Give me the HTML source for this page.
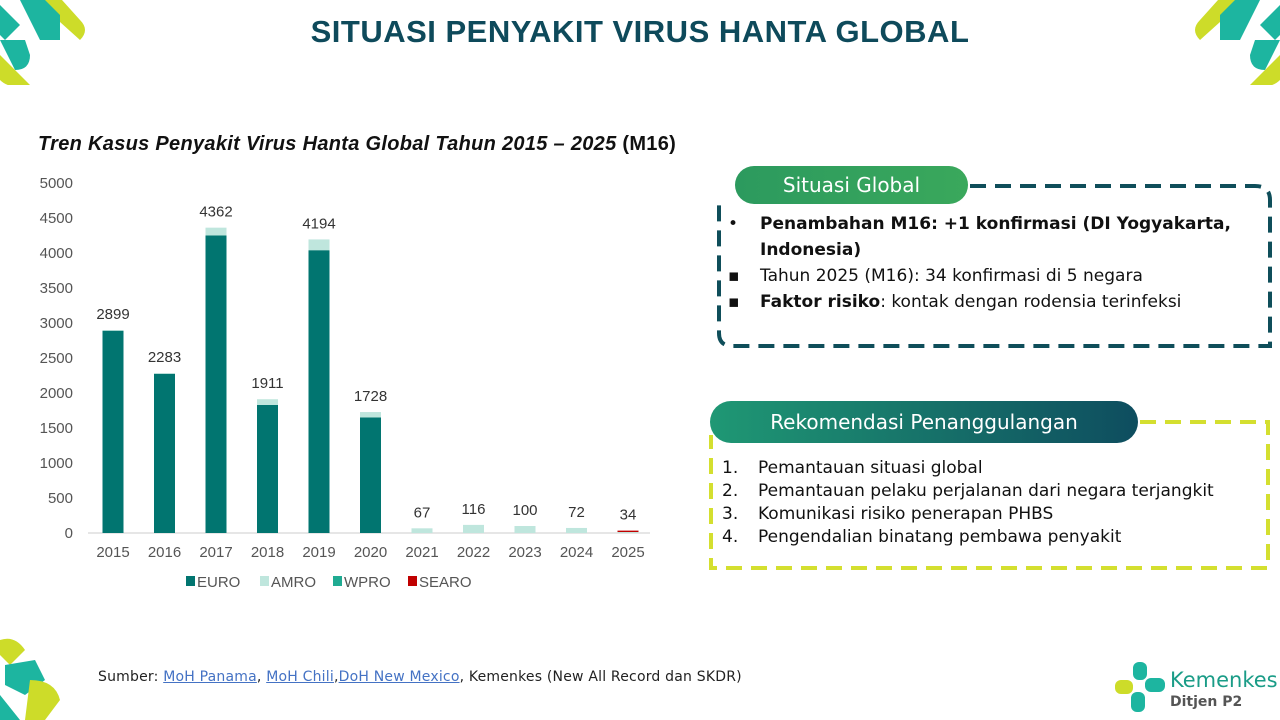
<!DOCTYPE html>
<html><head><meta charset="utf-8"><style>
body{margin:0;width:1280px;height:720px;background:#fff;position:relative;overflow:hidden;font-family:"Liberation Sans",sans-serif}
.abs{position:absolute}
h1{position:absolute;left:0;width:1280px;top:14px;margin:0;text-align:center;font-size:31px;font-weight:bold;color:#0e4a5b;letter-spacing:0.5px}
.ct{left:38px;top:133px;font-size:20px;font-weight:bold;font-style:italic;color:#111;letter-spacing:0.3px}
.pill{color:#fff;font-size:20px;text-align:center;border-radius:22px;font-family:"DejaVu Sans",sans-serif}
.txt{font-family:"DejaVu Sans",sans-serif;font-size:17px;color:#111;line-height:26px}
</style></head><body>
<h1>SITUASI PENYAKIT VIRUS HANTA GLOBAL</h1>
<svg class="abs" style="left:0;top:0" width="90" height="85">
<path d="M38 0 H62 L80 20 Q90 30 80 40 L60 22 Z" fill="#cddc29"/>
<path d="M0 5 L20 25 L5 40 L0 35Z" fill="#1db5a0"/>
<path d="M20 0 L45 0 L60 15 L60 40 L40 40Z" fill="#1db5a0"/>
<path d="M0 40 L25 40 L30 55 Q30 70 15 70Z" fill="#1db5a0"/>
<path d="M0 55 L30 85 Q10 90 0 80Z" fill="#cddc29"/>
</svg>
<svg class="abs" style="left:1190px;top:0" width="90" height="85">
<g transform="translate(90,0) scale(-1,1)">
<path d="M38 0 H62 L80 20 Q90 30 80 40 L60 22 Z" fill="#cddc29"/>
<path d="M0 5 L20 25 L5 40 L0 35Z" fill="#1db5a0"/>
<path d="M20 0 L45 0 L60 15 L60 40 L40 40Z" fill="#1db5a0"/>
<path d="M0 40 L25 40 L30 55 Q30 70 15 70Z" fill="#1db5a0"/>
<path d="M0 55 L30 85 Q10 90 0 80Z" fill="#cddc29"/></g>
</svg>
<svg class="abs" style="left:0;top:635px" width="75" height="85">
<path d="M0 5 Q15 0 25 15 L10 30 L0 20Z" fill="#cddc29"/>
<path d="M5 30 L35 25 L45 45 L25 60 L5 50Z" fill="#1db5a0"/>
<path d="M30 45 Q55 45 60 65 L45 85 L25 85Z" fill="#cddc29"/>
<path d="M0 60 L20 85 L0 85Z" fill="#1db5a0"/>
</svg>
<div class="abs ct">Tren Kasus Penyakit Virus Hanta Global Tahun 2015 – 2025 <span style="font-style:normal">(M16)</span></div>
<svg id="chart" class="abs" style="left:0;top:0" width="700" height="600"></svg>
<script>
const years=["2015","2016","2017","2018","2019","2020","2021","2022","2023","2024","2025"];
const euro=[2890,2275,4250,1830,4040,1650,0,0,0,0,0];
const amro=[9,8,112,81,154,78,67,116,100,72,14];
const wpro=[0,0,0,0,0,0,0,0,0,0,0];
const searo=[0,0,0,0,0,0,0,0,0,0,20];
const totals=[2899,2283,4362,1911,4194,1728,67,116,100,72,34];
const yTicks=[0,500,1000,1500,2000,2500,3000,3500,4000,4500,5000];
const NS="http://www.w3.org/2000/svg";
const svg=document.getElementById('chart');
const y=v=>533-v*0.07;
const x=i=>113+i*51.5;
function mk(t,a){const e=document.createElementNS(NS,t);for(const k in a)e.setAttribute(k,a[k]);svg.appendChild(e);return e;}
yTicks.forEach(t=>{const e=mk('text',{x:73,y:y(t)+5,'text-anchor':'end','font-size':15,fill:'#555','font-family':'Liberation Sans'});e.textContent=t;

});
const ax=mk('line',{x1:88,x2:650,y1:533,y2:533,stroke:'#ccc'});


const series=[[euro,'#017570','euro'],[amro,'#bfe6dd','amro'],[wpro,'#20ab92','wpro'],[searo,'#c00000','searo']];
years.forEach((yr,i)=>{let base=0;
series.forEach(([arr,c,n])=>{const v=arr[i];if(v>0){const r=mk('rect',{x:x(i)-10.5,y:y(base+v),width:21,height:y(base)-y(base+v),fill:c});

}base+=v;});
const l=mk('text',{x:x(i),y:y(totals[i])-11,'text-anchor':'middle','font-size':15,fill:'#333','font-family':'Liberation Sans'});l.textContent=totals[i];


const t=mk('text',{x:x(i),y:557,'text-anchor':'middle','font-size':15,fill:'#555','font-family':'Liberation Sans'});t.textContent=yr;

});
const leg=[['EURO','#017570',186],['AMRO','#bfe6dd',260],['WPRO','#20ab92',333],['SEARO','#c00000',408]];
leg.forEach(([n,c,lx])=>{const r=mk('rect',{x:lx,y:576,width:9,height:10,fill:c});


const t=mk('text',{x:lx+11,y:587,'font-size':15,fill:'#555','font-family':'Liberation Sans'});t.textContent=n;

});
</script>
<svg class="abs" style="left:700px;top:160px" width="580" height="420">
<path d="M270 26 H555 Q570 26 570 40 V186 H32 Q19 186 19 173 V40" fill="none" stroke="#0f4e5a" stroke-width="4" stroke-dasharray="16 9"/>
<path d="M440 262 H568 V408 H11 V275" fill="none" stroke="#d4df2f" stroke-width="4" stroke-dasharray="16 9"/>
</svg>
<div class="abs pill" style="left:735px;top:166px;width:233px;height:38px;line-height:38px;background:linear-gradient(90deg,#2c9a5e,#3aa85c)">Situasi Global</div>
<div class="abs txt" style="left:728px;top:211px;width:540px">
<div style="padding-left:32px;text-indent:-32px"><span style="display:inline-block;width:32px;text-indent:0">•</span><b>Penambahan M16: +1 konfirmasi (DI Yogyakarta, Indonesia)</b></div>
<div><span style="display:inline-block;width:32px">▪</span>Tahun 2025 (M16): 34 konfirmasi di 5 negara</div>
<div><span style="display:inline-block;width:32px">▪</span><b>Faktor risiko</b>: kontak dengan rodensia terinfeksi</div>
</div>
<div class="abs pill" style="left:710px;top:401px;width:428px;height:42px;line-height:42px;background:linear-gradient(90deg,#1f9874,#0e4d5f)">Rekomendasi Penanggulangan</div>
<div class="abs txt" style="left:722px;top:457px;line-height:23px">
<div><span style="display:inline-block;width:36px">1.</span>Pemantauan situasi global</div>
<div><span style="display:inline-block;width:36px">2.</span>Pemantauan pelaku perjalanan dari negara terjangkit</div>
<div><span style="display:inline-block;width:36px">3.</span>Komunikasi risiko penerapan PHBS</div>
<div><span style="display:inline-block;width:36px">4.</span>Pengendalian binatang pembawa penyakit</div>
</div>
<div class="abs" style="left:98px;top:669px;font-size:14px;font-family:'DejaVu Sans',sans-serif;color:#222;letter-spacing:0.2px">Sumber: <a style="color:#4472c4;text-decoration:underline">MoH Panama</a>, <a style="color:#4472c4;text-decoration:underline">MoH Chili</a>,<a style="color:#4472c4;text-decoration:underline">DoH New Mexico</a>, Kemenkes (New All Record dan SKDR)</div>
<svg class="abs" style="left:1115px;top:662px" width="55" height="52">
<rect x="18" y="0" width="14" height="18" rx="6" fill="#1db5a0"/><rect x="0" y="18" width="18" height="14" rx="6" fill="#cddc29"/>
<rect x="30" y="16" width="20" height="14" rx="6" fill="#1db5a0"/><rect x="16" y="30" width="14" height="20" rx="6" fill="#1db5a0"/>
</svg>
<div class="abs" style="left:1170px;top:668px;font-size:21px;color:#1a9c87;font-family:'DejaVu Sans',sans-serif">Kemenkes</div>
<div class="abs" style="left:1170px;top:694px;font-size:14px;color:#555;font-weight:bold;font-family:'DejaVu Sans',sans-serif">Ditjen P2</div>
</body></html>
